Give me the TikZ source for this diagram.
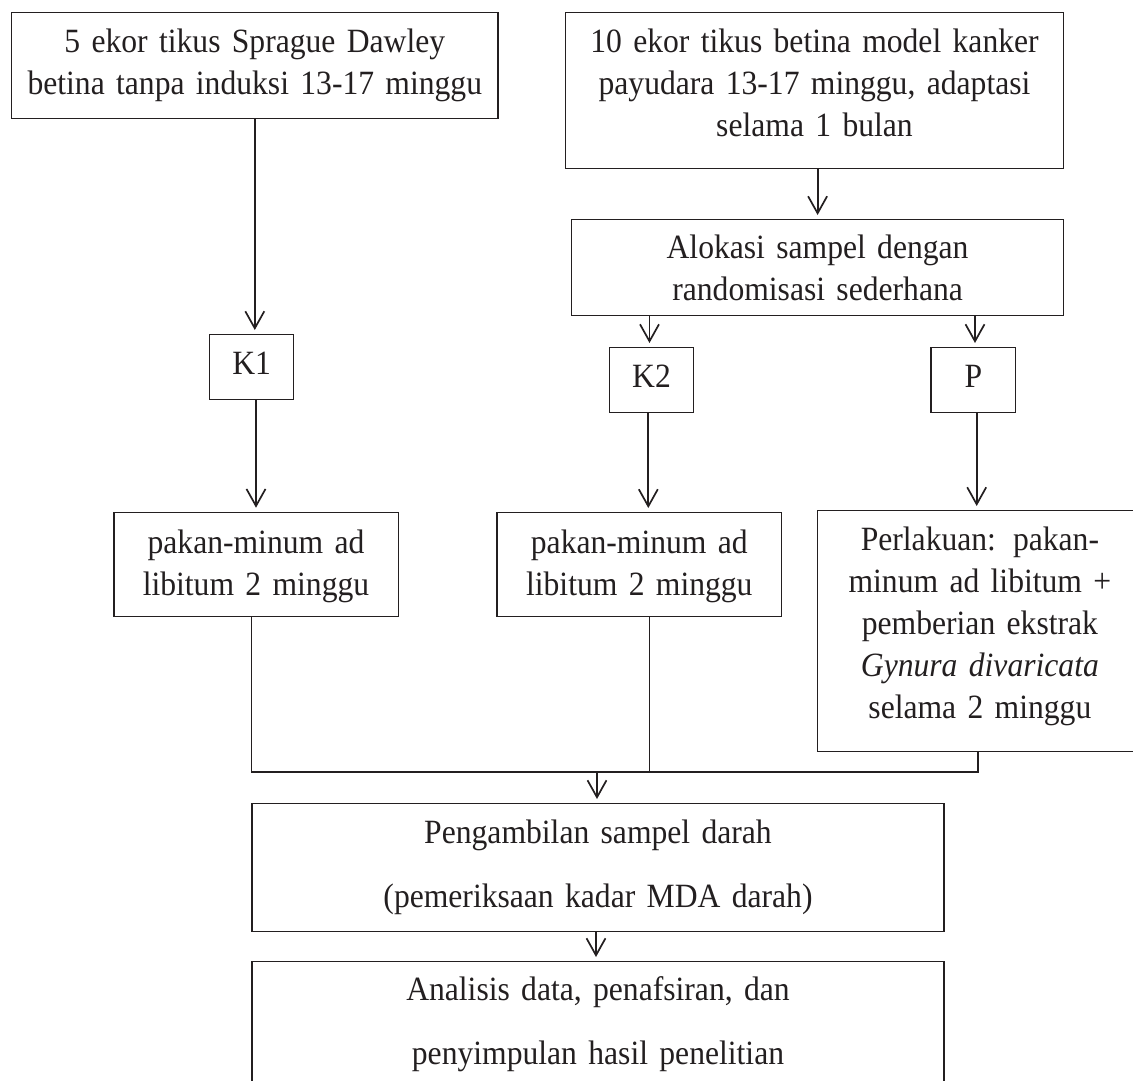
\documentclass[tikz,border=0pt]{standalone}
\usepackage{fontspec}
\setmainfont{Liberation Serif}[FakeStretch=0.93]
\usetikzlibrary{arrows.meta}
\definecolor{ink}{HTML}{231F20}
\begin{document}
\begin{tikzpicture}[x=1pt,y=-1pt,
  box/.style={draw=ink, line width=1.2pt, rectangle, inner xsep=0pt, inner ysep=0pt,
    align=center, anchor=north, text=ink, font=\fontsize{34}{42}\selectfont},
  wide/.style={font=\fontsize{34}{64}\selectfont},
  conn/.style={draw=ink, line width=1.8pt,
    -{Straight Barb[length=17pt,width=19pt,line width=1.7pt]}, shorten >=4pt},
  joinline/.style={draw=ink, line width=1.5pt}
]
\useasboundingbox (0,0) rectangle (1133,1081);

\node[box, text width=486.4pt, text height=39.7pt, text depth=66pt] (b1) at (254.8,12.3)
  {5 ekor tikus Sprague Dawley\\betina tanpa induksi 13-17 minggu};
\node[box, text width=498.1pt, text height=39.7pt, text depth=116pt] (b2) at (814.5,12.3)
  {10 ekor tikus betina model kanker\\payudara 13-17 minggu, adaptasi\\selama 1 bulan};
\node[box, text width=491.9pt, text height=39.3pt, text depth=56.7pt] (alloc) at (817.6,219)
  {Alokasi sampel dengan\\randomisasi sederhana};
\node[box, text width=84pt, text height=40pt, text depth=25pt] (k1) at (251.7,334) {K1};
\node[box, text width=84.5pt, text height=40pt, text depth=25pt] (k2) at (651.5,347) {K2};
\node[box, text width=84.5pt, text height=40pt, text depth=25pt] (p) at (973.3,347) {P};
\node[box, text width=284.2pt, text height=41pt, text depth=63.3pt] (pk1) at (256,511.7)
  {pakan-minum ad\\libitum 2 minggu};
\node[box, text width=284.5pt, text height=41pt, text depth=63pt] (pk2) at (639.3,512)
  {pakan-minum ad\\libitum 2 minggu};
\node[box, text width=324.6pt, text height=40pt, text depth=201pt] (perl) at (979.9,510)
  {Perlakuan: pakan-\\minum ad libitum +\\pemberian ekstrak\\\textit{Gynura divaricata}\\selama 2 minggu};
\node[box, wide, text width=692pt, text height=40pt, text depth=88pt] (peng) at (598,803)
  {Pengambilan sampel darah\\(pemeriksaan kadar MDA darah)};
\node[box, wide, text width=692pt, text height=39pt, text depth=140pt] (anal) at (598,961)
  {Analisis data, penafsiran, dan\\penyimpulan hasil penelitian};

\coordinate (j) at (597,772);

\draw[conn] (b1.south) -- (b1.south |- k1.north);
\draw[conn] (pk1.north |- k1.south) -- (pk1.north);
\draw[conn] (alloc.north |- b2.south) -- (alloc.north);
\draw[conn] ([xshift=-2pt]k2.north |- alloc.south) -- ([xshift=-2pt]k2.north);
\draw[conn] ([xshift=1.7pt]p.north |- alloc.south) -- ([xshift=1.7pt]p.north);
\draw[conn] ([xshift=-3.2pt]k2.south) -- ([xshift=-3.2pt]k2.south |- pk2.north);
\draw[conn] ([xshift=3.4pt]p.south) -- ([xshift=3.4pt]p.south |- perl.north);

\draw[joinline] ([xshift=-4.5pt]pk1.south) |- (j);
\draw[joinline] ([xshift=10.2pt]pk2.south) |- (j);
\draw[joinline] ([xshift=-2pt]perl.south) |- (j);

\draw[conn] (j) -- (j |- peng.north);
\draw[conn] ([xshift=-2pt]peng.south) -- ([xshift=-2pt]peng.south |- anal.north);
\end{tikzpicture}
\end{document}
